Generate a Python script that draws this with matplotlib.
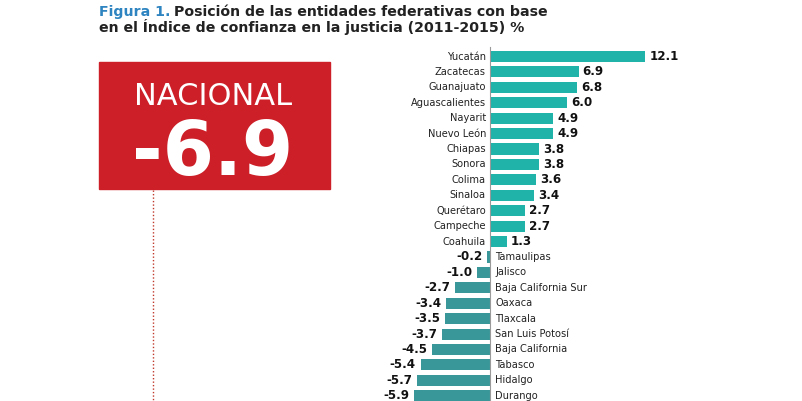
import matplotlib.pyplot as plt
from matplotlib.patches import Rectangle

states = ["Yucatán", "Zacatecas", "Guanajuato", "Aguascalientes", "Nayarit",
          "Nuevo León", "Chiapas", "Sonora", "Colima", "Sinaloa", "Querétaro",
          "Campeche", "Coahuila", "Tamaulipas", "Jalisco", "Baja California Sur",
          "Oaxaca", "Tlaxcala", "San Luis Potosí", "Baja California", "Tabasco",
          "Hidalgo", "Durango"]
values = [12.1, 6.9, 6.8, 6.0, 4.9, 4.9, 3.8, 3.8, 3.6, 3.4, 2.7, 2.7, 1.3,
          -0.2, -1.0, -2.7, -3.4, -3.5, -3.7, -4.5, -5.4, -5.7, -5.9]
national = -6.9

pos_color = '#1fb3aa'
neg_color = '#3a9799'

W, H = 803, 401
fig = plt.figure(figsize=(W / 100, H / 100), dpi=100)
ax = fig.add_axes([0, 0, 1, 1])

# pixel scale: zero at x=490, ~12.85 px per unit; rows 15.42 px apart
px = 12.85
ax.set_xlim(-490 / px, (W - 490) / px)
row0, step = 56.5, 15.42
ax.set_ylim((H - row0) / step, -row0 / step)
ax.axis('off')

y = list(range(len(states)))
colors = [pos_color if v >= 0 else neg_color for v in values]
ax.barh(y, values, height=0.72, color=colors, zorder=2)
ax.plot([0, 0], [-0.6, len(states)], color='#9a9a9a', lw=0.8, zorder=3)

gap = 4 / px
for i, (s, v) in enumerate(zip(states, values)):
    if v >= 0:
        ax.text(-gap, i, s, ha='right', va='center', fontsize=7.1, color='#222222')
        ax.text(v + gap, i, f"{v:.1f}", ha='left', va='center', fontsize=8.6,
                fontweight='bold', color='#111111')
    else:
        ax.text(gap * 1.3, i, s, ha='left', va='center', fontsize=7.1, color='#222222')
        ax.text(v - gap * 1.2, i, f"{v:.1f}", ha='right', va='center', fontsize=8.6,
                fontweight='bold', color='#111111')

# title
tsize = 10.2
t1 = fig.text(99 / W, 1 - 16 / H, "Figura 1.", color='#2e84c0', fontsize=tsize,
              fontweight='bold', ha='left', va='baseline')
fig.canvas.draw()
bb = t1.get_window_extent(fig.canvas.get_renderer())
fig.text(bb.x1 / W + 4 / W, 1 - 16 / H, "Posición de las entidades federativas con base",
         color='#222222', fontsize=tsize, fontweight='bold', ha='left', va='baseline')
fig.text(99 / W, 1 - 32 / H, "en el Índice de confianza en la justicia (2011-2015) %",
         color='#222222', fontsize=tsize, fontweight='bold', ha='left', va='baseline')

# national box
fig.patches.append(Rectangle((99 / W, 1 - 189 / H), 231 / W, 127 / H,
                             transform=fig.transFigure, color='#cc1f28', zorder=1))
fig.text(213 / W, 1 - 105 / H, "NACIONAL", color='white', fontsize=22,
         ha='center', va='baseline')
fig.text(213 / W, 1 - 175 / H, f"{national:.1f}", color='white', fontsize=53,
         fontweight='bold', ha='center', va='baseline')
fig.lines.append(plt.Line2D([153 / W, 153 / W], [1 - 190 / H, 0],
                            transform=fig.transFigure, color='#c0392b',
                            lw=1, linestyle=(0, (1, 1.5))))

fig.savefig('out.png', dpi=100)
